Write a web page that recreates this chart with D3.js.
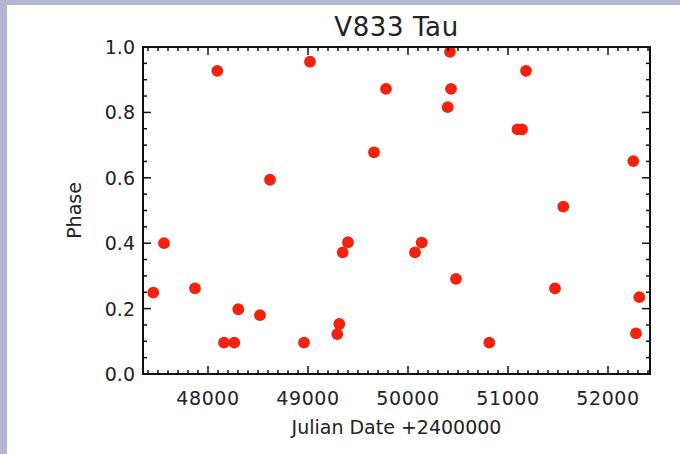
<!DOCTYPE html>
<html><head><meta charset="utf-8">
<script src="https://cdn.jsdelivr.net/npm/d3@7"></script>
<style>
html,body{margin:0;padding:0;background:#b6b6d4;}
svg{display:block;}
text{font-family:"DejaVu Sans",sans-serif;fill:#222;}
</style></head>
<body>
<svg id="chart" width="680" height="454"></svg>
<script>
const title = "V833 Tau";
const xLabel = "Julian Date +2400000";
const yLabel = "Phase";
const xTicks = [48000, 49000, 50000, 51000, 52000];
const yTicks = [0.0, 0.2, 0.4, 0.6, 0.8, 1.0];
const julianDate = [48093, 49020, 49780, 49660, 48620, 50420, 50430, 50397, 51180, 51095, 51140, 52253,
  47560, 47453, 47870, 48303, 48520, 48160, 48263, 48960, 49313, 49293, 49400, 49347,
  50137, 50070, 50480, 50813, 51553, 51470, 52313, 52280];
const phase = [0.927, 0.955, 0.872, 0.678, 0.594, 0.985, 0.872, 0.816, 0.927, 0.748, 0.748, 0.651,
  0.400, 0.249, 0.262, 0.198, 0.180, 0.096, 0.096, 0.096, 0.153, 0.122, 0.403, 0.372,
  0.402, 0.372, 0.291, 0.096, 0.512, 0.262, 0.235, 0.124];

const svg = d3.select("#chart");
svg.append("rect").attr("x",7).attr("y",5).attr("width",673).attr("height",449).attr("fill","#fff");

const L=143, R=650, T=47, B=374;
const x = d3.scaleLinear().domain([47350, 52420]).range([L, R]);
const y = d3.scaleLinear().domain([0, 1]).range([B, T]);

const xMinor = d3.range(47400, 52420, 100);
const yMinor = d3.range(0, 1.0001, 0.05);

const g = svg.append("g");
g.selectAll("circle").data(julianDate.map((d,i)=>[d,phase[i]])).join("circle")
  .attr("cx", d=>x(d[0])).attr("cy", d=>y(d[1])).attr("r",5.9).attr("fill","#f2220c");

const ax = svg.append("g").attr("stroke","#111").attr("stroke-width",1.5).attr("fill","none");
const isMajorX = v => Math.abs(v/1000 - Math.round(v/1000))<1e-6;
xMinor.forEach(v=>{
  const len = isMajorX(v)?8:4;
  ax.append("line").attr("x1",x(v)).attr("x2",x(v)).attr("y1",B).attr("y2",B-len);
  ax.append("line").attr("x1",x(v)).attr("x2",x(v)).attr("y1",T).attr("y2",T+len);
});
yMinor.forEach(v=>{
  const major = Math.abs(v*5-Math.round(v*5))<1e-6;
  const len = major?8:4;
  ax.append("line").attr("x1",L).attr("x2",L+len).attr("y1",y(v)).attr("y2",y(v));
  ax.append("line").attr("x1",R).attr("x2",R-len).attr("y1",y(v)).attr("y2",y(v));
});
ax.append("rect").attr("x",L).attr("y",T).attr("width",R-L).attr("height",B-T).attr("stroke-width",2);

svg.append("g").selectAll("text").data(xTicks).join("text")
  .attr("x", d=>x(d)).attr("y", 405).attr("text-anchor","middle")
  .attr("font-size",19).attr("letter-spacing",0.6).text(d=>d);
svg.append("g").selectAll("text").data(yTicks).join("text")
  .attr("x", 135).attr("y", d=>y(d)+7).attr("text-anchor","end")
  .attr("font-size",19).text(d=>d.toFixed(1));

svg.append("text").attr("x",(L+R)/2).attr("y",36).attr("text-anchor","middle")
  .attr("font-size",26).attr("letter-spacing",0.6).text(title);
svg.append("text").attr("x",(L+R)/2).attr("y",434).attr("text-anchor","middle")
  .attr("font-size",19).text(xLabel);
svg.append("text").attr("transform",`translate(81,${(T+B)/2}) rotate(-90)`).attr("text-anchor","middle")
  .attr("font-size",19).text(yLabel);
</script>
</body></html>
